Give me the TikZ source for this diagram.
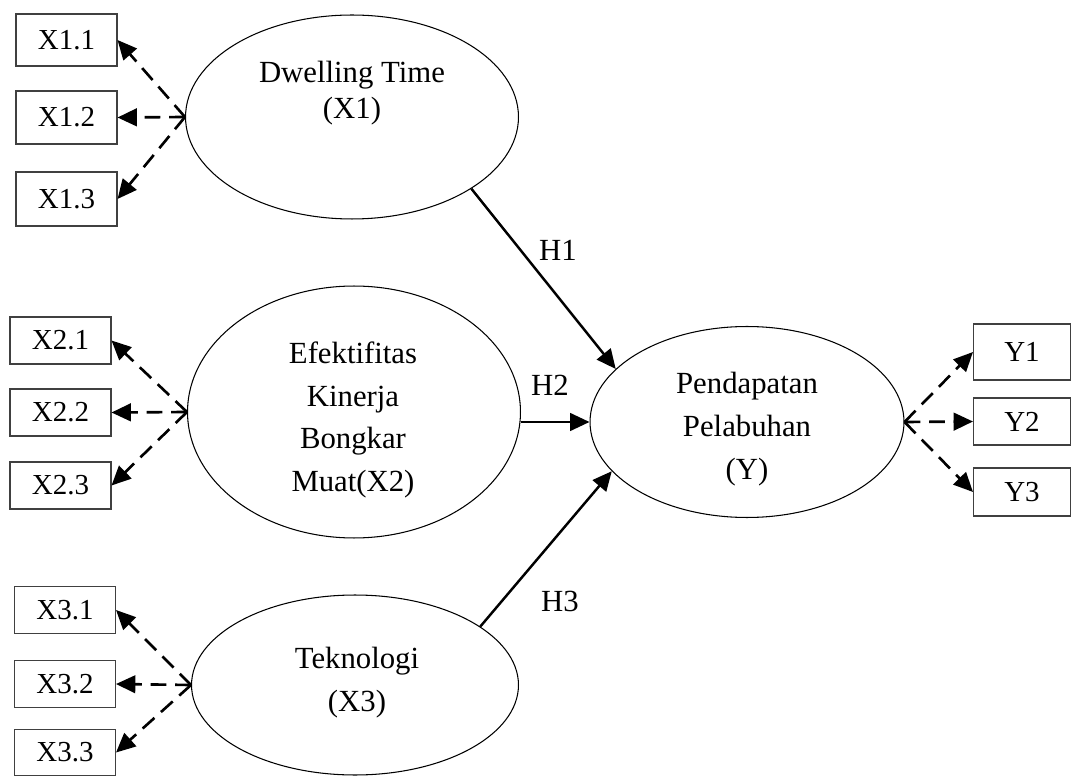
\documentclass[tikz,border=0pt]{standalone}
\usepackage{fontspec}
\setmainfont{Liberation Serif}
\usetikzlibrary{shapes.geometric,arrows.meta}

\begin{document}
\begin{tikzpicture}[x=0.02cm, y=-0.02cm,
  ind/.style={draw=black!75, line width=0.6pt, minimum width=2.02cm, inner sep=0pt, font=\fontsize{16.5}{19}\selectfont},
  lat/.style={draw, ellipse, line width=0.6pt, inner sep=0pt},
  lattext/.style={align=center, font=\fontsize{17.5}{24.4}\selectfont},
  load/.style={line width=1.5pt, dash pattern=on 9pt off 5pt, -{Triangle[length=11pt,width=10pt]}},
  hyp/.style={line width=1.4pt, -{Triangle[length=11pt,width=10pt]}}]
   \useasboundingbox (0,0) rectangle (1071,783);

   % latent variables
   \node[lat, minimum width=6.66cm, minimum height=4.08cm] (dt) at (352,117) {};
   \node[lat, minimum width=6.66cm, minimum height=5.04cm] (ek) at (354,412) {};
   \node[lat, minimum width=6.54cm, minimum height=3.6cm] (tk) at (355,685) {};
   \node[lat, minimum width=6.28cm, minimum height=3.82cm] (pp) at (747,422) {};

   \node[lattext, font=\fontsize{17.5}{20.5}\selectfont] (dttext) at (352,93) {Dwelling Time\\(X1)};
   \node[lattext] (ektext) at (353,420) {Efektifitas\\Kinerja\\Bongkar\\Muat(X2)};
   \node[lattext] (tktext) at (357,683) {Teknologi\\(X3)};
   \node[lattext] (pptext) at (747,429) {Pendapatan\\Pelabuhan\\(Y)};

   % indicators
   \foreach \n/\y/\h in {1/40/1.04, 2/117.5/1.06, 3/199/1.08} {
    \node[ind, minimum height=\h cm] (x1\n) at (66.5,\y) {X1.\n};
    \draw[load] (dt.west) -- (x1\n.east);
   }
   \foreach \n/\y in {1/340.5, 2/412.5, 3/485.5} {
    \node[ind, minimum height=0.94cm] (x2\n) at (60.5,\y) {X2.\n};
    \draw[load] (ek.west) -- (x2\n.east);
   }
   \foreach \n/\y in {1/610, 2/684, 3/752.5} {
    \node[ind, minimum height=0.93cm] (x3\n) at (65,\y) {X3.\n};
    \draw[load] (tk.west) -- (x3\n.east);
   }
   \foreach \n/\y/\h in {1/352/1.12, 2/421.5/0.94, 3/492/0.96} {
    \node[ind, minimum width=1.94cm, minimum height=\h cm] (y\n) at (1022,\y) {Y\n};
    \draw[load] (pp.east) -- (y\n.west);
   }

   % hypotheses
   \draw[hyp] (dt.-31) -- (pp.158);
   \draw[hyp] (ek.east |- pp.west) -- (pp.west);
   \draw[hyp] (tk.25) -- (pp.200);

   \node[font=\fontsize{17.5}{20}\selectfont] (h1) at (558,250) {H1};
   \node[font=\fontsize{17.5}{20}\selectfont] (h2) at (550,385) {H2};
   \node[font=\fontsize{17.5}{20}\selectfont] (h3) at (560,601) {H3};
\end{tikzpicture}
\end{document}
